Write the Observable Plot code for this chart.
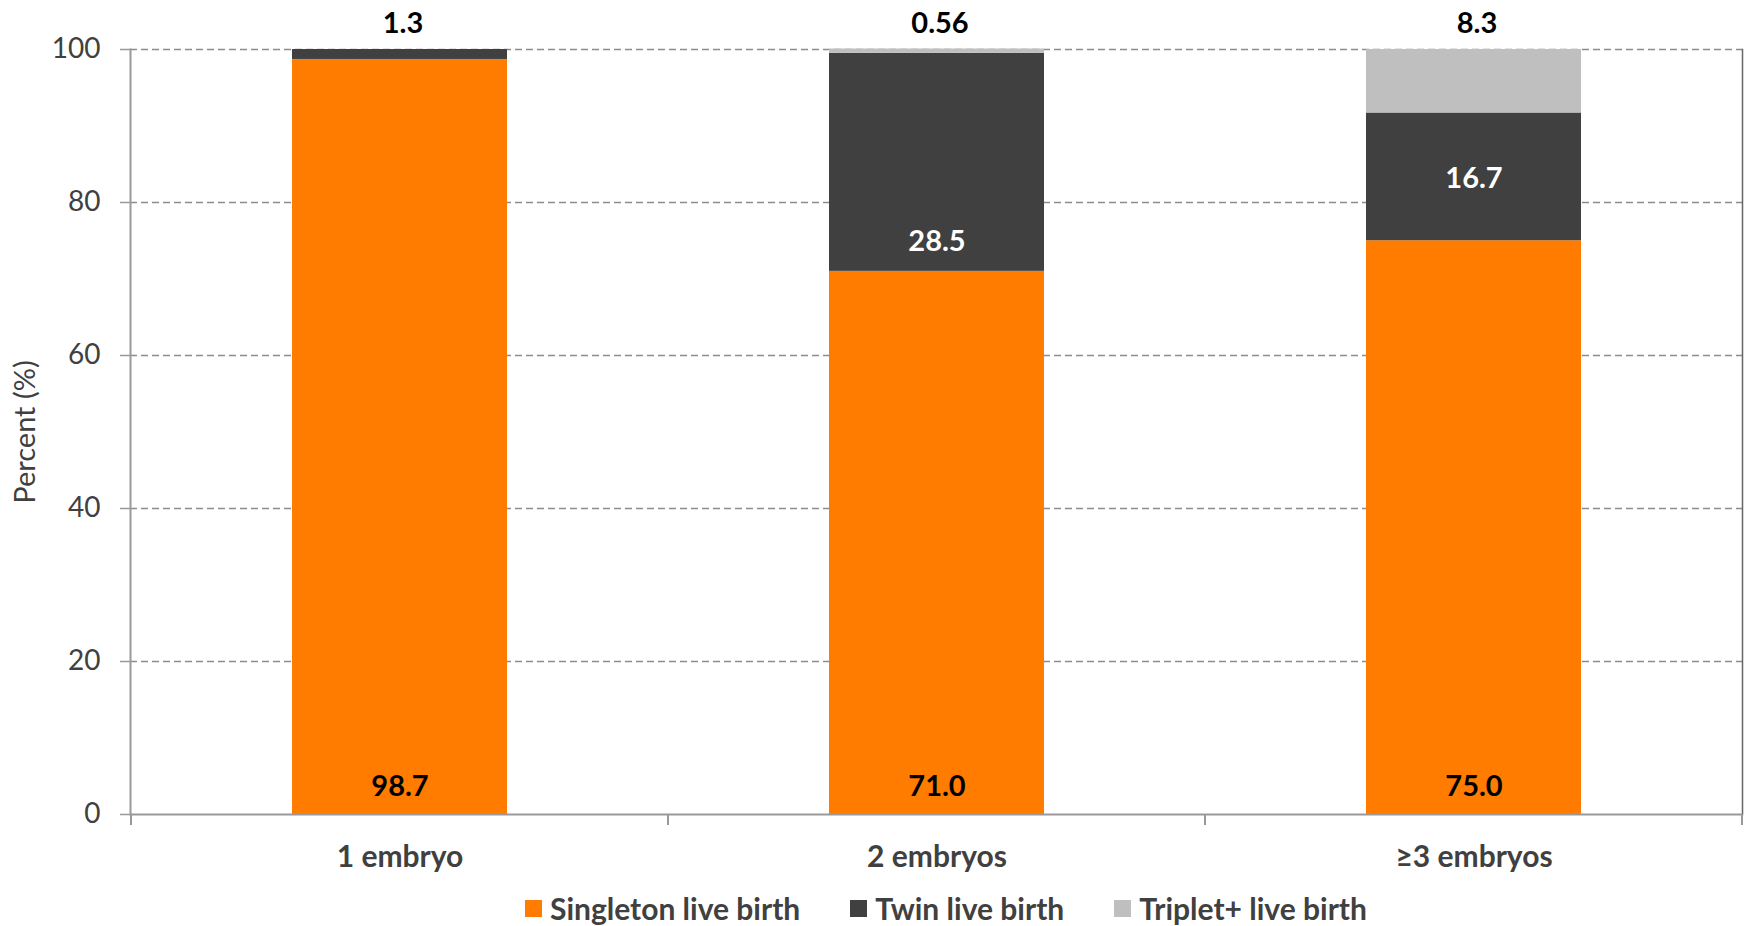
<!DOCTYPE html>
<html>
<head>
<meta charset="utf-8">
<script src="https://cdn.jsdelivr.net/npm/d3@7"></script>
<script src="https://cdn.jsdelivr.net/npm/@observablehq/plot@0.6"></script>
<style>
  html, body { margin: 0; padding: 0; background: #fff; overflow: hidden; }
  #wrap { position: relative; width: 1747px; height: 926px; }
  #legend { position: absolute; top: 891px; left: 525px; height: 34px; display: flex; align-items: center;
            font-family: Lato, "Open Sans", sans-serif; font-weight: bold; font-size: 30px; color: #404040; }
  .item { display: flex; align-items: center; margin-right: 50px; }
  .sw { width: 17px; height: 17px; margin-right: 8px; }
</style>
</head>
<body>
<div id="wrap"></div>
<script>
const categories = ["1 embryo", "2 embryos", "≥3 embryos"];
const seriesNames = ["Singleton live birth", "Twin live birth", "Triplet+ live birth"];
const singleton = [98.7, 71.0, 75.0];
const twin = [1.3, 28.5, 16.7];
const triplet = [0, 0.56, 8.3];
const yTicks = [0, 20, 40, 60, 80, 100];
const colors = ["#FF7C00", "#404040", "#BFBFBF"];

// label styling (how the inside twin labels were placed)
const twinLabelAnchor = ["top", "base", "middle"];

const seriesValues = [singleton, twin, triplet];
const rows = [];
categories.forEach((c, i) => {
  seriesNames.forEach((s, k) => {
    if (seriesValues[k][i] > 0) rows.push({cat: c, series: s, value: seriesValues[k][i]});
  });
});

const fmt = v => (v >= 1 ? v.toFixed(1) : String(v));

const baseLabels = categories.map((c, i) => ({cat: c, text: singleton[i].toFixed(1)}));
const topLabels = categories.map((c, i) => {
  const v = triplet[i] > 0 ? triplet[i] : twin[i];
  return {cat: c, text: fmt(v)};
});
const twinBase = categories.map((c, i) => ({cat: c, i}))
  .filter(d => twinLabelAnchor[d.i] === "base")
  .map(d => ({cat: d.cat, y: singleton[d.i], text: fmt(twin[d.i])}));
const twinMid = categories.map((c, i) => ({cat: c, i}))
  .filter(d => twinLabelAnchor[d.i] === "middle")
  .map(d => ({cat: d.cat, y: singleton[d.i] + twin[d.i] / 2, text: fmt(twin[d.i])}));

const chart = Plot.plot({
  width: 1747,
  height: 880,
  marginTop: 49,
  marginBottom: 66,
  marginLeft: 130,
  marginRight: 5,
  style: {fontFamily: "Lato, 'Open Sans', sans-serif", background: "white", color: "#404040"},
  x: {domain: categories, paddingInner: 0.6, paddingOuter: 0.3, label: null},
  y: {domain: [0, 100], label: null},
  color: {domain: seriesNames, range: colors},
  marks: [
    Plot.gridY(yTicks.filter(t => t > 0), {stroke: "#8c8c8c", strokeOpacity: 1, strokeWidth: 1.5, strokeDasharray: "7,4"}),
    Plot.barY(rows, {x: "cat", y: "value", fill: "series", order: seriesNames}),
    Plot.frame({anchor: "left", stroke: "#999", strokeWidth: 2}),
    Plot.frame({anchor: "right", stroke: "#666", strokeWidth: 1.5}),
    Plot.ruleY([0], {stroke: "#999", strokeWidth: 2}),
    Plot.axisY({ticks: yTicks, tickSize: 10, tickPadding: 20, fontSize: 28, fill: "#404040", stroke: "#999", strokeWidth: 1.5, label: null}),
    Plot.axisX({tickSize: 0, tickPadding: 31, fontSize: 30, fontWeight: "bold", fill: "#404040", label: null}),
    Plot.text(["Percent (%)"], {frameAnchor: "left", textAnchor: "middle", lineAnchor: "middle", rotate: -90, dx: -105, fontSize: 29, fill: "#404040"}),
    Plot.text(baseLabels, {x: "cat", text: "text", frameAnchor: "bottom", lineAnchor: "middle", dy: -28, fontSize: 29, fontWeight: "bold", fill: "#000"}),
    Plot.text(topLabels, {x: "cat", text: "text", frameAnchor: "top", lineAnchor: "middle", dy: -26, dx: 3, fontSize: 29, fontWeight: "bold", fill: "#000"}),
    Plot.text(twinBase, {x: "cat", y: "y", text: "text", dy: -30, fontSize: 29, fontWeight: "bold", fill: "#fff"}),
    Plot.text(twinMid, {x: "cat", y: "y", text: "text", dy: 2, fontSize: 29, fontWeight: "bold", fill: "#fff"})
  ]
});

document.getElementById("wrap").appendChild(chart);

// category boundary ticks below the x axis, from the band scale
const sx = chart.scale("x");
const sy = chart.scale("y");
const gap = (sx.step - sx.bandwidth) / 2;
const bounds = categories.map(c => sx.apply(c) - gap);
bounds.push(sx.apply(categories[categories.length - 1]) + sx.bandwidth + gap);
const y0 = sy.apply(0);
d3.select(chart).append("g")
  .selectAll("line").data(bounds).join("line")
  .attr("x1", d => d).attr("x2", d => d)
  .attr("y1", y0).attr("y2", y0 + 11)
  .attr("stroke", "#999").attr("stroke-width", 2);

// legend
const legend = document.createElement("div");
legend.id = "legend";
seriesNames.forEach((s, k) => {
  const it = document.createElement("div");
  it.className = "item";
  const sw = document.createElement("div");
  sw.className = "sw";
  sw.style.background = colors[k];
  const t = document.createElement("span");
  t.textContent = s;
  it.appendChild(sw); it.appendChild(t);
  legend.appendChild(it);
});
document.getElementById("wrap").appendChild(legend);
</script>
</body>
</html>
